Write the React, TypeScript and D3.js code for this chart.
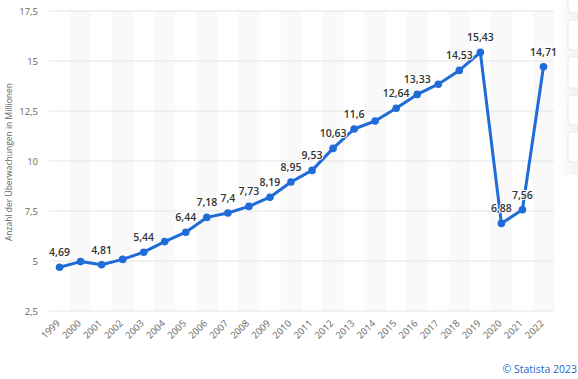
import React from "react";
import * as d3 from "d3";

const years = ["1999","2000","2001","2002","2003","2004","2005","2006","2007","2008","2009","2010","2011","2012","2013","2014","2015","2016","2017","2018","2019","2020","2021","2022"];
const values = [4.69,4.97,4.81,5.08,5.44,5.97,6.44,7.18,7.4,7.73,8.19,8.95,9.53,10.63,11.6,12.0,12.64,13.33,13.84,14.53,15.43,6.88,7.56,14.71];
const showLabel = [true,false,true,false,true,false,true,true,true,true,true,true,true,true,true,false,true,true,false,true,true,true,true,true];
const yTicks = [2.5,5,7.5,10,12.5,15,17.5];
const yAxisTitle = "Anzahl der Überwachungen in Millionen";
const credit = "© Statista 2023";

const W = 578, H = 379;
const left = 49, right = 554, top = 11, bottom = 311;

const fmt = (v: number) => String(v).replace(".", ",");

export default function App() {
  const x = d3.scaleBand().domain(years).range([left, right]).padding(0);
  const y = d3.scaleLinear().domain([2.5, 17.5]).range([bottom, top]);
  const cx = (yr: string) => (x(yr) as number) + x.bandwidth() / 2;
  const line = d3.line<number>().x((_, i) => cx(years[i])).y((d) => y(d));
  const font = "'Open Sans', 'Noto Sans', Arial, sans-serif";
  const panelBoxes = [[-10, 13], [20, 50], [57, 88], [95, 125], [132, 162]];

  return (
    <svg width={W} height={H} style={{ position: "absolute", left: 0, top: 0, background: "#fff" }} fontFamily={font}>
      <defs>
        <linearGradient id="pg" x1="0" x2="1" y1="0" y2="0">
          <stop offset="0" stopColor="#ffffff" />
          <stop offset="1" stopColor="#f1f2f4" />
        </linearGradient>
      </defs>
      <rect x={0} y={0} width={W} height={H} fill="#fff" />
      <rect x={556} y={0} width={22} height={175} fill="url(#pg)" />
      {panelBoxes.map(([a, b], i) => (
        <rect key={i} x={568} y={a} width={20} height={b - a} rx={3} fill="#fff" stroke="#e6e7ea" strokeWidth={1} />
      ))}
      {years.map((yr, i) => i % 2 === 1 ? (
        <rect key={yr} x={x(yr)} y={top} width={x.bandwidth()} height={bottom - top} fill="#f9f9f9" />
      ) : null)}
      {yTicks.map((t) => (
        <line key={t} x1={left} x2={right} y1={y(t)} y2={y(t)} stroke="#e4e4e4" strokeWidth={1} />
      ))}
      {yTicks.map((t) => (
        <text key={t} x={38} y={y(t) + 3.5} textAnchor="end" fontSize={9.5} fill="#666">{fmt(t)}</text>
      ))}
      <text transform={`translate(12, 162) rotate(-90)`} textAnchor="middle" fontSize={8.5} fill="#666">{yAxisTitle}</text>
      {years.map((yr) => (
        <text key={yr} transform={`translate(${cx(yr) + 1}, 324) rotate(-45)`} textAnchor="end" fontSize={9.5} fill="#666">{yr}</text>
      ))}
      <path d={line(values) || ""} fill="none" stroke="#1f6bd8" strokeWidth={3} strokeLinejoin="round" />
      {values.map((v, i) => (
        <circle key={i} cx={cx(years[i])} cy={y(v)} r={3.8} fill="#1f6bd8" />
      ))}
      {values.map((v, i) => showLabel[i] ? (
        <text key={i} x={cx(years[i])} y={y(v) - 11} textAnchor="middle" fontSize={10.5} fontWeight={600} fill="#333"
          stroke="#fff" strokeWidth={2} paintOrder="stroke">{fmt(v)}</text>
      ) : null)}
      <text x={577} y={373} textAnchor="end" fontSize={10.5} fill="#1a66cc">{credit}</text>
    </svg>
  );
}
